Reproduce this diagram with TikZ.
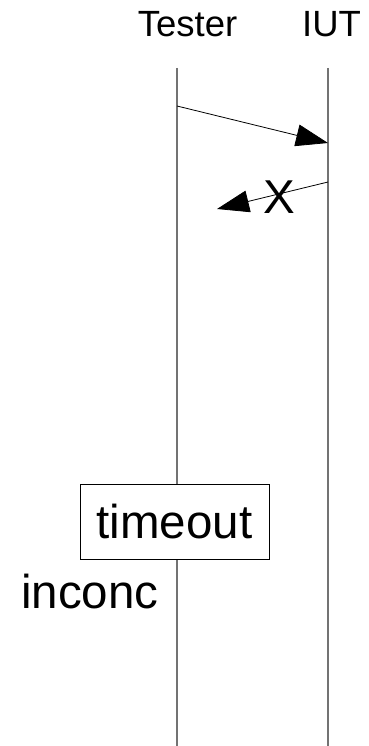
\documentclass[tikz,border=0pt]{standalone}
\usepackage{fontspec}
\setmainfont{Liberation Sans}
\usetikzlibrary{arrows.meta}
\begin{document}
\begin{tikzpicture}[x=1pt,y=-1pt,
  lifeline/.style={draw=black!55,line width=1.1pt},
  msg/.style={draw=black,line width=0.8pt,-{Triangle[length=32pt,width=22pt]}},
  header/.style={inner sep=0pt,anchor=base,font=\fontsize{36.5}{42}\selectfont},
  bigtext/.style={inner sep=0pt,font=\fontsize{47.5}{54}\selectfont},
  timerbox/.style={draw=black,line width=0.9pt,fill=white,minimum width=189pt,minimum height=75pt,inner sep=0pt,font=\fontsize{47.5}{54}\selectfont}]
  \useasboundingbox (0,0) rectangle (368,746);
  % instance headers
  \node[header] (tester) at (187.5,37) {Tester};
  \node[header] (iut) at (331.5,37) {IUT};
  % lifelines
  \coordinate (tTop) at (177,68);
  \coordinate (tBot) at (177,746);
  \coordinate (iTop) at (328,68);
  \coordinate (iBot) at (328,746);
  \draw[lifeline] (tTop) -- (tBot);
  \draw[lifeline] (iTop) -- (iBot);
  % messages
  \coordinate (m1s) at (177,106);
  \coordinate (m1e) at (328,143);
  \draw[msg] (m1s) -- (m1e);
  \coordinate (m2s) at (328,182);
  \coordinate (m2e) at (217,209);
  \draw[msg] (m2s) -- (m2e);
  \node[bigtext] (lost) at (279,197) {X};
  % timer and verdict
  \node[timerbox] (timeout) at (174.5,521.5) {timeout};
  \node[bigtext,anchor=base west] (verdict) at (21,608) {inconc};
\end{tikzpicture}
\end{document}
